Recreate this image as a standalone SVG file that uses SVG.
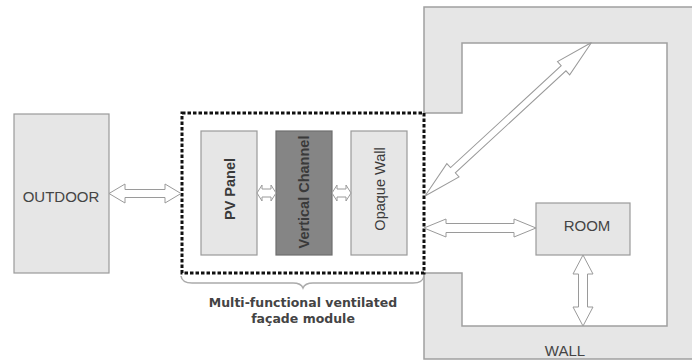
<svg xmlns="http://www.w3.org/2000/svg" width="692" height="360" viewBox="0 0 692 360">
  <style>
    .box { fill: #e6e6e6; stroke: #9a9a9a; stroke-width: 1.2; }
    .dark { fill: #858585; stroke: #6e6e6e; stroke-width: 1.2; }
    .wall { fill: #e6e6e6; stroke: #a0a0a0; stroke-width: 1.5; }
    .arrow { fill: #ffffff; stroke: #9a9a9a; stroke-width: 1; stroke-linejoin: miter; }
    .lbl { font-family: "Liberation Sans", Arial, sans-serif; font-size: 15px; fill: #444; text-anchor: middle; }
    .vlbl { font-family: "Liberation Sans", Arial, sans-serif; font-size: 14.5px; fill: #3a3a3a; text-anchor: middle; }
    .cap { font-family: "DejaVu Sans", Verdana, sans-serif; font-size: 12.5px; font-weight: bold; fill: #444; text-anchor: middle; }
    .module { fill: none; stroke: #111; stroke-width: 3; stroke-dasharray: 3.5 2; }
    .brace { fill: none; stroke: #ababab; stroke-width: 1.5; }
  </style>

  <!-- building wall enclosing the room -->
  <g id="wall">
    <path class="wall" d="M424,7 H700 V359 H424 V273 H462 V326 H667 V43 H462 V113 H424 Z"/>
    <text class="lbl" x="565" y="356">WALL</text>
  </g>

  <g id="outdoor">
    <rect class="box" x="14" y="114" width="95" height="159"/>
    <text class="lbl" x="61" y="202">OUTDOOR</text>
  </g>

  <g id="pv-panel">
    <rect class="box" x="201" y="131" width="56" height="124"/>
    <text class="vlbl" font-weight="bold" transform="translate(230,189) rotate(-90)" dy="0.35em">PV Panel</text>
  </g>

  <g id="vertical-channel">
    <rect class="dark" x="276" y="131" width="56" height="124"/>
    <text class="vlbl" font-weight="bold" transform="translate(304,192) rotate(-90)" dy="0.35em">Vertical Channel</text>
  </g>

  <g id="opaque-wall">
    <rect class="box" x="351" y="131" width="56" height="124"/>
    <text class="vlbl" transform="translate(380,189) rotate(-90)" dy="0.35em">Opaque Wall</text>
  </g>

  <g id="room">
    <rect class="box" x="536" y="203" width="94" height="52"/>
    <text class="lbl" x="587" y="231">ROOM</text>
  </g>

  <!-- facade module boundary with brace and caption -->
  <g id="facade-module">
    <rect class="module" x="182" y="113" width="242" height="160"/>
    <path class="brace" d="M181,276 Q182,283 192,283 H293 Q301,283 303,288 Q305,283 313,283 H413 Q423,283 424,276"/>
    <text class="cap" x="303" y="307">Multi-functional ventilated</text>
    <text class="cap" x="303" y="323">façade module</text>
  </g>

  <!-- two-way exchange arrows -->
  <g id="connectors">
    <polygon class="arrow" points="109,193.5 125,184 125,189.5 165,189.5 165,184 181,193.5 165,203 165,197.5 125,197.5 125,203"/>
    <polygon class="arrow" points="257,193 262,185 262,189 271,189 271,185 276,193 271,201 271,197 262,197 262,201"/>
    <polygon class="arrow" points="332,193 337,185 337,189 346,189 346,185 351,193 346,201 346,197 337,197 337,201"/>
    <polygon class="arrow" points="424,228 446,219 446,223.5 514,223.5 514,219 536,228 514,237 514,232.5 446,232.5 446,237"/>
    <polygon class="arrow" points="583,255 593,274 587.5,274 587.5,307 593,307 583,326 573,307 578.5,307 578.5,274 573,274"/>
    <polygon class="arrow" transform="translate(425,196) rotate(-42.68)" points="0,0 38,-9 38,-3.5 188.5,-3.5 188.5,-9 226.5,0 188.5,9 188.5,3.5 38,3.5 38,9"/>
  </g>
</svg>
